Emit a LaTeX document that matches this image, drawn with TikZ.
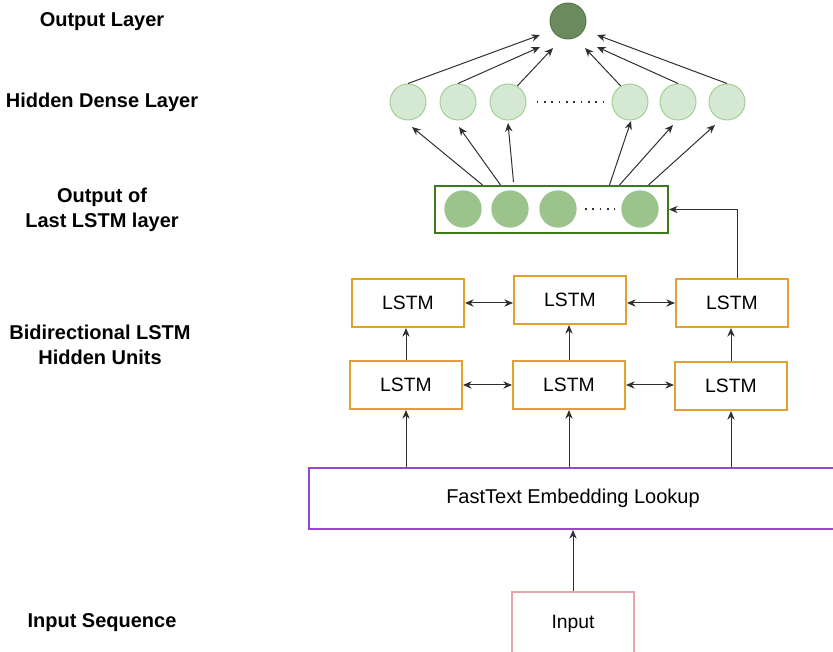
\documentclass[tikz,border=0pt]{standalone}
\usepackage{fontspec}
\setmainfont{Liberation Sans}
\usetikzlibrary{arrows.meta}

\definecolor{lstmorange}{HTML}{E3A02F}
\definecolor{densefill}{HTML}{D5E8D4}
\definecolor{denseline}{HTML}{A3D094}
\definecolor{outfill}{HTML}{6B8A5E}
\definecolor{outline}{HTML}{5A7A4D}
\definecolor{cellfill}{HTML}{9CC38C}
\definecolor{boxgreen}{HTML}{3C7A1E}
\definecolor{embpurple}{HTML}{9A45D0}
\definecolor{inpink}{HTML}{E8A3AC}
\definecolor{arrowgray}{HTML}{303030}

\begin{document}
\begin{tikzpicture}[x=0.75pt,y=-0.75pt]
\tikzset{
  lstmbox/.style={draw=lstmorange,line width=1.5pt,minimum width=84pt,minimum height=36pt,inner sep=0pt,font=\fontsize{14.5}{16}\selectfont},
  densenode/.style={circle,draw=denseline,fill=densefill,line width=0.75pt,minimum size=27pt,inner sep=0pt},
  outnode/.style={circle,draw=outline,fill=outfill,line width=0.75pt,minimum size=27pt,inner sep=0pt},
  cellnode/.style={circle,fill=cellfill,minimum size=28pt,inner sep=0pt},
  layerlabel/.style={align=center,font=\bfseries\fontsize{15}{19}\selectfont},
  directed/.style={-{Stealth[length=6.5pt,width=5.5pt]},draw=arrowgray,line width=0.75pt},
  bidirected/.style={{Stealth[length=6.5pt,width=5.5pt]}-{Stealth[length=6.5pt,width=5.5pt]},draw=arrowgray,line width=0.75pt},
  dotrow/.style={draw=arrowgray,line width=1.3pt,dash pattern=on 1.3pt off 4.2pt}
}
\useasboundingbox (0,0) rectangle (833,652);
% layer labels
\node[layerlabel] (l_out) at (102,22) {Output Layer};
\node[layerlabel] (l_dense) at (102,102) {Hidden Dense Layer};
\node[layerlabel] (l_last) at (102,210) {Output of\\Last LSTM layer};
\node[layerlabel] (l_bi) at (100,345) {Bidirectional LSTM\\Hidden Units};
\node[layerlabel] (l_in) at (102,623) {Input Sequence};
% output and dense layer
\node[outnode] (n_out) at (568,21) {};
\node[densenode] (n_d_1) at (408,102) {};
\node[densenode] (n_d_2) at (458,102) {};
\node[densenode] (n_d_3) at (508,102) {};
\node[densenode] (n_d_4) at (630,102) {};
\node[densenode] (n_d_5) at (678,102) {};
\node[densenode] (n_d_6) at (727,102) {};
\draw[dotrow] (n_d_3.east) ++(10,0) -- ([shift={(-8,0)}]n_d_4.west);
% output of last LSTM layer
\node[draw=boxgreen,line width=1.5pt,minimum width=174.75pt,minimum height=35.25pt,inner sep=0pt] (n_last) at (551.5,209.5) {};
\node[cellnode] (n_c_1) at (463,209) {};
\node[cellnode] (n_c_2) at (510,209) {};
\node[cellnode] (n_c_3) at (558,209) {};
\node[cellnode] (n_c_4) at (640,209) {};
\draw[dotrow] (n_c_3.east) ++(8,0) -- ([shift={(-6,0)}]n_c_4.west);
% LSTM units
\node[lstmbox] (n_t_1) at (408,303) {LSTM};
\node[lstmbox] (n_t_2) at (570,300) {LSTM};
\node[lstmbox] (n_t_3) at (732,303) {LSTM};
\node[lstmbox] (n_b_1) at (406,385) {LSTM};
\node[lstmbox] (n_b_2) at (569,385) {LSTM};
\node[lstmbox] (n_b_3) at (731,386) {LSTM};
% embedding and input
\node[draw=embpurple,line width=1.5pt,minimum width=396pt,minimum height=45.75pt,inner sep=0pt,font=\fontsize{15}{17}\selectfont] (n_emb) at (573,498.5) {FastText Embedding Lookup};
\node[draw=inpink,line width=1.5pt,minimum width=91.5pt,minimum height=47.25pt,inner sep=0pt,font=\fontsize{14.5}{16}\selectfont] (n_in) at (573,623.5) {Input};
% connectors
\draw[directed] (n_in) -- (n_emb);
\draw[directed] (n_emb.north -| n_b_1) -- (n_b_1);
\draw[directed] (n_emb.north -| n_b_2) -- (n_b_2);
\draw[directed] (n_emb.north -| n_b_3) -- (n_b_3);
\draw[directed] (n_b_1) -- (n_b_1 |- n_t_1.south);
\draw[directed] (n_b_2) -- (n_b_2 |- n_t_2.south);
\draw[directed] (n_b_3) -- (n_b_3 |- n_t_3.south);
\draw[bidirected] (n_t_1) -- (n_t_1 -| n_t_2.west);
\draw[bidirected] (n_t_2.east |- n_t_3) -- (n_t_3);
\draw[bidirected] (n_b_1) -- (n_b_2);
\draw[bidirected] (n_b_2) -- (n_b_2 -| n_b_3.west);
\draw[directed] ([shift={(5,0)}]n_t_3.north) |- (n_last.east);
\draw[directed] ([shift={(-69,0)}]n_last.north) -- ([shift={(4,25)}]n_d_1.center);
\draw[directed] ([shift={(-51,0)}]n_last.north) -- ([shift={(1,25)}]n_d_2.center);
\draw[directed] ([shift={(-38,-3)}]n_last.north) -- ([shift={(0,21)}]n_d_3.center);
\draw[directed] ([shift={(58,0)}]n_last.north) -- ([shift={(1,19)}]n_d_4.center);
\draw[directed] ([shift={(68,0)}]n_last.north) -- ([shift={(-5,23)}]n_d_5.center);
\draw[directed] ([shift={(97,0)}]n_last.north) -- ([shift={(-12,23)}]n_d_6.center);
\draw[directed] (n_d_1.north) -- ([shift={(-28,14)}]n_out.center);
\draw[directed] (n_d_2.north) -- ([shift={(-28,26)}]n_out.center);
\draw[directed] (n_d_3.60) -- ([shift={(-15,27)}]n_out.center);
\draw[directed] (n_d_4.120) -- ([shift={(17,27)}]n_out.center);
\draw[directed] (n_d_5.north) -- ([shift={(29,26)}]n_out.center);
\draw[directed] (n_d_6.north) -- ([shift={(29,14)}]n_out.center);
\end{tikzpicture}
\end{document}
